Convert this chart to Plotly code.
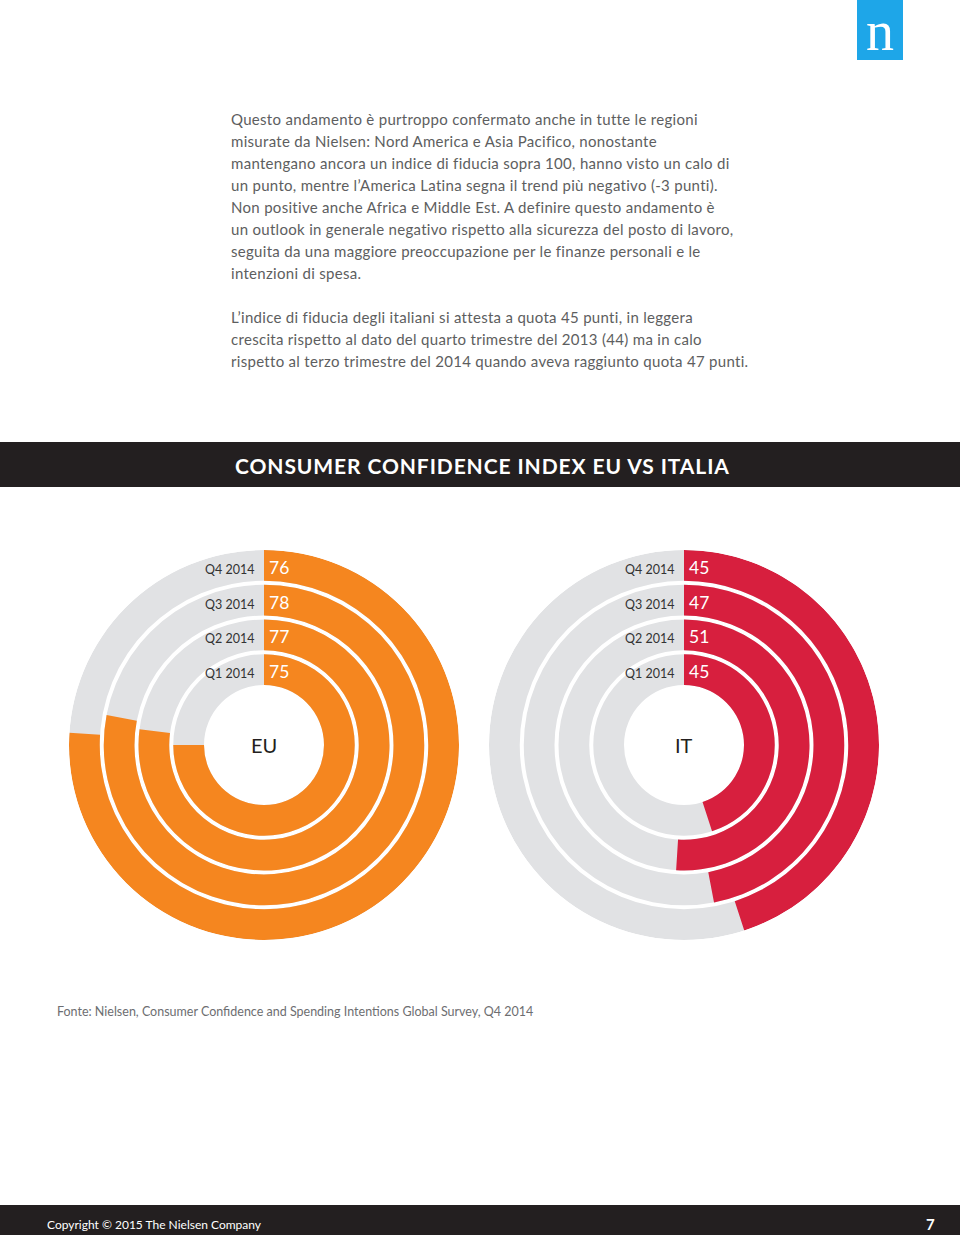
import plotly.graph_objects as go

# ---------------- data ----------------
quarters = ["Q1 2014", "Q2 2014", "Q3 2014", "Q4 2014"]
eu_values = [75, 77, 78, 76]
it_values = [45, 51, 47, 45]
chart_labels = ["EU", "IT"]
scale_max = 100

title_text = "CONSUMER CONFIDENCE INDEX EU VS ITALIA"
body_lines_1 = [
    "Questo andamento è purtroppo confermato anche in tutte le regioni",
    "misurate da Nielsen: Nord America e Asia Pacifico, nonostante",
    "mantengano ancora un indice di fiducia sopra 100, hanno visto un calo di",
    "un punto, mentre l’America Latina segna il trend più negativo (-3 punti).",
    "Non positive anche Africa e Middle Est. A definire questo andamento è",
    "un outlook in generale negativo rispetto alla sicurezza del posto di lavoro,",
    "seguita da una maggiore preoccupazione per le finanze personali e le",
    "intenzioni di spesa.",
]
body_lines_2 = [
    "L’indice di fiducia degli italiani si attesta a quota 45 punti, in leggera",
    "crescita rispetto al dato del quarto trimestre del 2013 (44) ma in calo",
    "rispetto al terzo trimestre del 2014 quando aveva raggiunto quota 47 punti.",
]
source_text = "Fonte: Nielsen, Consumer Confidence and Spending Intentions Global Survey, Q4 2014"
footer_text = "Copyright © 2015 The Nielsen Company"
page_number = "7"

# ---------------- style / layout ----------------
W, H = 960, 1235
ORANGE = "#f5861f"
RED = "#d71f3e"
GRAY = "#e1e2e4"
DARK = "#231f20"
TEXT = "#5d5e60"
FONT = "Lato"

HOLE = 60.0
THICK = 30.75
GAP = 4.0
OUTER = 195.0
bases = [HOLE + i * (THICK + GAP) for i in range(len(quarters))]
CY = 745
centers_x = [264, 684]
colors = [ORANGE, RED]


def px(x):
    return x / W


def py(y):
    return 1 - y / H


def spaced(t, s):
    return f'<span style="letter-spacing:{s}px">{t}</span>'


fig = go.Figure()
annotations = []
shapes = []

for k, (vals, col, cx, lab) in enumerate(zip([eu_values, it_values], colors, centers_x, chart_labels)):
    pname = "polar" if k == 0 else f"polar{k+1}"
    fig.add_trace(go.Barpolar(
        r=[THICK] * len(vals), base=bases, theta=[180] * len(vals), width=[360] * len(vals),
        marker=dict(color=GRAY, line=dict(width=0)), subplot=pname, hoverinfo="skip", showlegend=False,
    ))
    fig.add_trace(go.Barpolar(
        r=[THICK] * len(vals), base=bases,
        theta=[v / scale_max * 180 for v in vals],
        width=[v / scale_max * 360 for v in vals],
        marker=dict(color=col, line=dict(width=0)), subplot=pname,
        text=quarters, hovertemplate="%{text}: %{customdata}<extra></extra>", customdata=vals,
        showlegend=False,
    ))
    fig.layout[pname] = dict(
        domain=dict(x=[px(cx - OUTER), px(cx + OUTER)], y=[py(CY + OUTER), py(CY - OUTER)]),
        bgcolor="rgba(0,0,0,0)",
        barmode="overlay",
        radialaxis=dict(range=[0, OUTER], visible=False, showgrid=False),
        angularaxis=dict(visible=False, direction="clockwise", rotation=90, showgrid=False),
    )
    for q, v, b in zip(quarters, vals, bases):
        rmid = b + THICK / 2 - 4
        annotations.append(dict(x=px(cx), y=py(CY - rmid), xref="paper", yref="paper",
                                text=q, showarrow=False, xanchor="right", yanchor="middle", xshift=-8,
                                font=dict(family=FONT, size=12.5, color="#333333")))
        annotations.append(dict(x=px(cx), y=py(CY - rmid - 2), xref="paper", yref="paper",
                                text=str(v), showarrow=False, xanchor="left", yanchor="middle", xshift=3,
                                font=dict(family=FONT, size=17.5, color="white")))
    annotations.append(dict(x=px(cx), y=py(CY), xref="paper", yref="paper", text=lab,
                            showarrow=False, xanchor="center", yanchor="middle",
                            font=dict(family=FONT, size=20, color=DARK)))

# body text
for i, line in enumerate(body_lines_1):
    annotations.append(dict(x=px(229), y=py(119 + 22 * i), xref="paper", yref="paper", text=spaced(line, 0.3),
                            showarrow=False, xanchor="left", yanchor="middle",
                            font=dict(family=FONT, size=15, color=TEXT)))
for i, line in enumerate(body_lines_2):
    annotations.append(dict(x=px(229), y=py(317 + 22 * i), xref="paper", yref="paper", text=spaced(line, 0.3),
                            showarrow=False, xanchor="left", yanchor="middle",
                            font=dict(family=FONT, size=15, color=TEXT)))

# title bar
shapes.append(dict(type="rect", xref="paper", yref="paper", x0=0, x1=1, y0=py(487), y1=py(442),
                   fillcolor=DARK, line=dict(width=0), layer="below"))
annotations.append(dict(x=px(482), y=py(465), xref="paper", yref="paper",
                        text="<b>" + spaced(title_text, 0.9) + "</b>",
                        showarrow=False, xanchor="center", yanchor="middle",
                        font=dict(family=FONT, size=21, color="white")))

# logo
shapes.append(dict(type="rect", xref="paper", yref="paper", x0=px(857), x1=px(903), y0=py(60), y1=py(0),
                   fillcolor="#1ea6e8", line=dict(width=0)))
annotations.append(dict(x=px(880), y=py(31), xref="paper", yref="paper", text="n",
                        showarrow=False, xanchor="center", yanchor="middle",
                        font=dict(family="Liberation Serif", size=56, color="white")))

# source
annotations.append(dict(x=px(55), y=py(1011), xref="paper", yref="paper", text=source_text,
                        showarrow=False, xanchor="left", yanchor="middle",
                        font=dict(family=FONT, size=12.5, color="#6d6e71")))

# footer
shapes.append(dict(type="rect", xref="paper", yref="paper", x0=0, x1=1, y0=0, y1=py(1205),
                   fillcolor=DARK, line=dict(width=0)))
annotations.append(dict(x=px(45), y=py(1224), xref="paper", yref="paper", text=footer_text,
                        showarrow=False, xanchor="left", yanchor="middle",
                        font=dict(family=FONT, size=12, color="white")))
annotations.append(dict(x=px(937), y=py(1224), xref="paper", yref="paper", text="<b>" + page_number + "</b>",
                        showarrow=False, xanchor="right", yanchor="middle",
                        font=dict(family=FONT, size=15, color="white")))

fig.update_layout(
    width=W, height=H, margin=dict(l=0, r=0, t=0, b=0),
    paper_bgcolor="white", plot_bgcolor="white",
    annotations=annotations, shapes=shapes, showlegend=False,
)
fig.write_html("out.html", config={"displayModeBar": False},
               post_script="document.body.style.margin='0';document.body.style.overflow='hidden';")
